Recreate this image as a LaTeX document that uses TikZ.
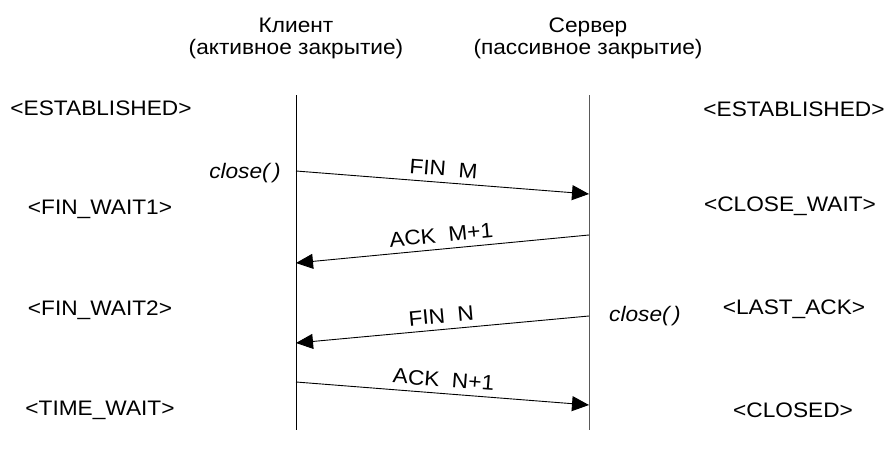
\documentclass[tikz,border=0pt]{standalone}
\usepackage{fontspec}
\setmainfont{Liberation Sans}[FakeStretch=1.08]
\usetikzlibrary{arrows.meta}
\tikzset{
  lbl/.style={font=\fontsize{21}{24}\selectfont, inner sep=0pt, anchor=base},
  msg/.style={font=\fontsize{21}{24}\selectfont, inner sep=0pt},
  fn/.style={font=\fontsize{21}{24}\selectfont\itshape, inner sep=0pt},
  life/.style={line width=1pt},
  arr/.style={line width=0.9pt, -{Triangle[length=17pt,width=15pt]}},
}
\begin{document}
\begin{tikzpicture}[x=1pt,y=-1pt]
\useasboundingbox (0,0) rectangle (886,452);
% headers
\node[lbl] (hc1) at (296,33) {Клиент};
\node[lbl] (hc2) at (296,55) {(активное закрытие)};
\node[lbl] (hs1) at (588,33) {Сервер};
\node[lbl] (hs2) at (588,55) {(пассивное закрытие)};
% lifelines
\coordinate (ct) at (296,95);
\coordinate (cb) at (296,430);
\coordinate (st) at (589,95);
\coordinate (sb) at (589,430);
\draw[life] (ct) -- (cb);
\draw[life, black!65] (st) -- (sb);
% states client
\node[lbl] (e1) at (101,115) {<ESTABLISHED>};
\node[lbl] (w1) at (100,214) {<FIN\_WAIT1>};
\node[lbl] (w2) at (100,315) {<FIN\_WAIT2>};
\node[lbl] (tw) at (100,415) {<TIME\_WAIT>};
% states server
\node[lbl] (e2) at (794,116) {<ESTABLISHED>};
\node[lbl] (cw) at (790,211) {<CLOSE\_WAIT>};
\node[lbl] (la) at (794,314) {<LAST\_ACK>};
\node[lbl] (cl) at (793,417) {<CLOSED>};
% close() calls
\node[fn, anchor=base east] (cc) at (281,178) {close(\,)};
\node[fn, anchor=base west] (sc) at (609,321) {close(\,)};
% message points
\coordinate (a1) at (296,171);
\coordinate (b1) at (589,194);
\coordinate (a2) at (589,235);
\coordinate (b2) at (296,263);
\coordinate (a3) at (589,316);
\coordinate (b3) at (296,343);
\coordinate (a4) at (296,382);
\coordinate (b4) at (589,405);
\draw[arr] (a1) -- node[msg, midway, sloped, above=6pt] (m1) {FIN\ \ M} (b1);
\draw[arr] (a2) -- node[msg, midway, sloped, above=6pt] (m2) {ACK\ \ M+1} (b2);
\draw[arr] (a3) -- node[msg, midway, sloped, above=6pt] (m3) {FIN\ \ N} (b3);
\draw[arr] (a4) -- node[msg, midway, sloped, above=6pt] (m4) {ACK\ \ N+1} (b4);
\end{tikzpicture}
\end{document}
